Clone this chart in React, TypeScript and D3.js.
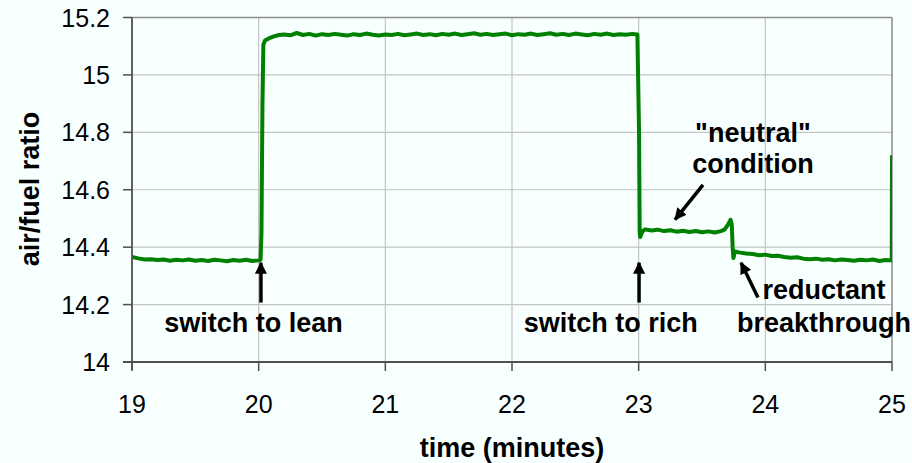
import React from 'react';
import * as d3 from 'd3';

const width = 912;
const height = 463;
const margin = { top: 17.5, right: 20, bottom: 101, left: 132 };
const green = '#008000';
const bg = '#f8ffff';
const font = '"Liberation Sans", Arial, sans-serif';

const time = [
  19.0, 19.05, 19.1, 19.15, 19.2, 19.25, 19.3, 19.35, 19.4, 19.45, 19.5, 19.55, 19.6, 19.65, 19.7, 19.75, 19.8, 19.85, 19.9, 19.95, 20.0,
  20.015, 20.022, 20.03, 20.037, 20.05, 20.08, 20.12, 20.16,
  20.2, 20.25, 20.3, 20.35, 20.4, 20.45, 20.5, 20.55, 20.6, 20.65, 20.7, 20.75, 20.8, 20.85, 20.9, 20.95,
  21.0, 21.05, 21.1, 21.15, 21.2, 21.25, 21.3, 21.35, 21.4, 21.45, 21.5, 21.55, 21.6, 21.65, 21.7, 21.75, 21.8, 21.85, 21.9, 21.95,
  22.0, 22.05, 22.1, 22.15, 22.2, 22.25, 22.3, 22.35, 22.4, 22.45, 22.5, 22.55, 22.6, 22.65, 22.7, 22.75, 22.8, 22.85, 22.9, 22.95, 22.99,
  23.003, 23.008, 23.012, 23.03, 23.05, 23.1, 23.15, 23.2, 23.25, 23.3, 23.35, 23.4, 23.45, 23.5, 23.55, 23.6, 23.65,
  23.68, 23.71, 23.725, 23.735, 23.742, 23.748, 23.76, 23.8, 23.85, 23.9, 23.95,
  24.0, 24.05, 24.1, 24.15, 24.2, 24.25, 24.3, 24.35, 24.4, 24.45, 24.5, 24.55, 24.6, 24.65, 24.7, 24.75, 24.8, 24.85, 24.9, 24.95, 24.998, 25.0,
];
const ratio = [
  14.366, 14.361, 14.357, 14.358, 14.355, 14.357, 14.353, 14.356, 14.354, 14.357, 14.353, 14.355, 14.352, 14.356, 14.354, 14.351, 14.355, 14.353, 14.356, 14.352, 14.354,
  14.356, 14.45, 14.9, 15.105, 15.12, 15.127, 15.134, 15.139,
  15.141, 15.138, 15.146, 15.139, 15.143, 15.137, 15.142, 15.139, 15.143, 15.14, 15.137, 15.142, 15.139, 15.144, 15.14, 15.137,
  15.141, 15.139, 15.143, 15.138, 15.141, 15.144, 15.139, 15.142, 15.138, 15.143, 15.14, 15.144, 15.139, 15.142, 15.145, 15.14, 15.143, 15.139, 15.142, 15.144,
  15.138, 15.142, 15.14, 15.144, 15.139, 15.142, 15.145, 15.14, 15.143, 15.139, 15.144, 15.141, 15.138, 15.143, 15.14, 15.144, 15.139, 15.142, 15.14, 15.143, 15.141,
  14.8, 14.45, 14.435, 14.455, 14.462, 14.458, 14.461, 14.456, 14.459, 14.454, 14.457, 14.453, 14.456, 14.452, 14.455, 14.451, 14.456,
  14.462, 14.482, 14.495, 14.48, 14.4, 14.362, 14.385, 14.381, 14.378, 14.376, 14.372,
  14.374, 14.369, 14.37, 14.366, 14.363, 14.365, 14.36, 14.358, 14.36, 14.356, 14.358, 14.354, 14.357, 14.355, 14.353, 14.356, 14.354, 14.357, 14.352, 14.355, 14.354, 14.72,
];

const xTicks = [19, 20, 21, 22, 23, 24, 25];
const yTicks = [14, 14.2, 14.4, 14.6, 14.8, 15, 15.2];
const yTickLabels = ['14', '14.2', '14.4', '14.6', '14.8', '15', '15.2'];

// annotations in data units
const arrows = [
  { x1: 20.018, y1: 14.207, x2: 20.018, y2: 14.346 },
  { x1: 23.003, y1: 14.207, x2: 23.003, y2: 14.346 },
  { x1: 23.942, y1: 14.225, x2: 23.808, y2: 14.346 },
  { x1: 23.508, y1: 14.617, x2: 23.287, y2: 14.496 },
];
const notes = [
  { x: 19.96, y: 14.106, text: 'switch to lean' },
  { x: 22.78, y: 14.106, text: 'switch to rich' },
  { x: 24.463, y: 14.221, text: 'reductant' },
  { x: 24.463, y: 14.106, text: 'breakthrough' },
  { x: 23.902, y: 14.767, text: '"neutral"' },
  { x: 23.902, y: 14.659, text: 'condition' },
];

const plotRight = 892;
const plotBottom = 362;

export default function App() {
  const x = d3.scaleLinear().domain([19, 25]).range([margin.left, plotRight]);
  const y = d3.scaleLinear().domain([14, 15.2]).range([plotBottom, margin.top]);
  const pts = time.map((t, i) => [t, ratio[i]] as [number, number]);
  const line = d3.line<[number, number]>().x(d => x(d[0])).y(d => y(d[1]));

  return (
    <svg width={width} height={height} style={{ position: 'absolute', left: 0, top: 0, fontFamily: font }}>
      <defs>
        <clipPath id="plot">
          <rect x={margin.left} y={margin.top} width={plotRight - margin.left} height={plotBottom - margin.top} />
        </clipPath>
        <marker id="head" viewBox="0 0 12 12" refX="11" refY="6" markerWidth="12" markerHeight="12"
          markerUnits="userSpaceOnUse" orient="auto">
          <path d="M0,0 L12,6 L0,12 Z" fill="#000" />
        </marker>
      </defs>
      <rect width={width} height={height} fill={bg} />
      {/* grid */}
      {yTicks.slice(1, -1).map(t => (
        <line key={'gy' + t} x1={margin.left} x2={plotRight} y1={y(t)} y2={y(t)} stroke="#c4c4c4" strokeWidth={1.2} />
      ))}
      {xTicks.slice(1, -1).map(t => (
        <line key={'gx' + t} x1={x(t)} x2={x(t)} y1={margin.top} y2={plotBottom} stroke="#c4c4c4" strokeWidth={1.2} />
      ))}
      <line x1={margin.left} x2={plotRight} y1={margin.top} y2={margin.top} stroke="#8a8a8a" strokeWidth={1.5} />
      <line x1={plotRight} x2={plotRight} y1={margin.top} y2={plotBottom} stroke="#8a8a8a" strokeWidth={1.5} />

      <path d={line(pts) || ''} fill="none" stroke={green} strokeWidth={4} strokeLinejoin="round" clipPath="url(#plot)" />

      {/* axes */}
      <line x1={margin.left} x2={margin.left} y1={margin.top} y2={plotBottom + 8} stroke="#505050" strokeWidth={1.8} />
      <line x1={margin.left - 9} x2={plotRight} y1={plotBottom} y2={plotBottom} stroke="#505050" strokeWidth={1.8} />
      {yTicks.map((t, i) => (
        <g key={'ty' + t}>
          <line x1={margin.left - 9} x2={margin.left} y1={y(t)} y2={y(t)} stroke="#505050" strokeWidth={1.5} />
          <text x={110} y={y(t)} dy="0.36em" textAnchor="end" fontSize={25} fill="#000">{yTickLabels[i]}</text>
        </g>
      ))}
      {xTicks.map(t => (
        <g key={'tx' + t}>
          <line x1={x(t)} x2={x(t)} y1={plotBottom} y2={plotBottom + 9} stroke="#505050" strokeWidth={1.5} />
          <text x={x(t)} y={413} textAnchor="middle" fontSize={25} fill="#000">{t}</text>
        </g>
      ))}
      <text x={512} y={457} textAnchor="middle" fontSize={27} fontWeight="bold">time (minutes)</text>
      <text transform={`translate(39,189) rotate(-90)`} textAnchor="middle" fontSize={27} fontWeight="bold">air/fuel ratio</text>

      {/* annotations */}
      {arrows.map((a, i) => (
        <line key={'a' + i} x1={x(a.x1)} y1={y(a.y1)} x2={x(a.x2)} y2={y(a.y2)} stroke="#000" strokeWidth={3.5} markerEnd="url(#head)" />
      ))}
      {notes.map((n, i) => (
        <text key={'n' + i} x={x(n.x)} y={y(n.y)} textAnchor="middle" fontSize={27} fontWeight="bold" fill="#000">{n.text}</text>
      ))}
    </svg>
  );
}
